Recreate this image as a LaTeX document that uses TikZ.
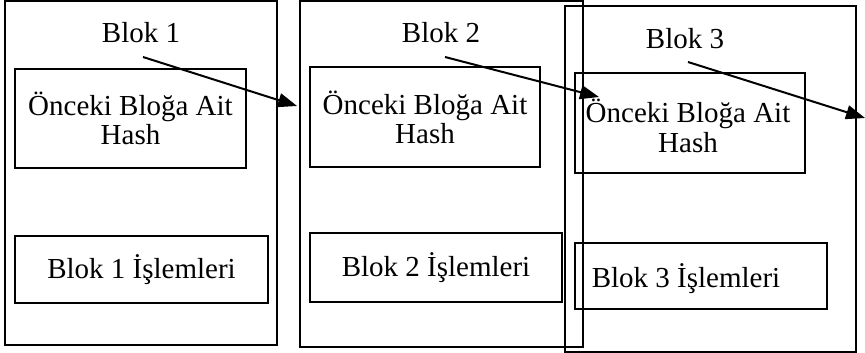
\documentclass[tikz,border=0pt]{standalone}
\usepackage{fontspec}
\setmainfont{Liberation Serif}
\usetikzlibrary{arrows.meta}
\begin{document}
\begin{tikzpicture}[x=1pt,y=-1pt,
  every node/.style={inner sep=0pt, outer sep=0pt},
  outerbox/.style={draw, line width=1.9pt, rectangle},
  innerbox/.style={draw, line width=1.9pt, rectangle, align=center, font=\fontsize{29}{29}\selectfont},
  lbl/.style={font=\fontsize{29}{29}\selectfont, anchor=base},
  link/.style={line width=2pt, -{Triangle[length=19pt,width=14pt]}}]
\useasboundingbox (0,0) rectangle (865,353);
% Block 1
\node[outerbox, minimum width=272pt, minimum height=344pt] (b1) at (141,173) {};
\node[lbl] (l1) at (141,43) {Blok 1};
\node[innerbox, minimum width=231pt, minimum height=99pt] (h1) at (130.5,118.5) {Önceki Bloğa Ait\\Hash};
\node[innerbox, minimum width=253pt, minimum height=67pt] (t1) at (141.5,269.5) {Blok 1 İşlemleri};
% Block 2
\node[outerbox, minimum width=283pt, minimum height=346pt] (b2) at (441.5,174) {};
\node[lbl] (l2) at (441,43) {Blok 2};
\node[innerbox, minimum width=230pt, minimum height=100pt] (h2) at (425,117) {Önceki Bloğa Ait\\Hash};
\node[innerbox, minimum width=252pt, minimum height=69pt] (t2) at (436,267.5) {Blok 2 İşlemleri};
% Block 3
\node[outerbox, minimum width=291pt, minimum height=346pt] (b3) at (710.5,179) {};
\node[lbl] (l3) at (685,49) {Blok 3};
\node[innerbox, minimum width=230pt, minimum height=100pt] (h3) at (690,123) {};
\node[align=center, font=\fontsize{29}{30}\selectfont] (h3t) at (688,126) {Önceki Bloğa Ait\\Hash};
\node[innerbox, minimum width=252pt, minimum height=66pt] (t3) at (701,276) {};
\node[lbl] (t3t) at (686,287) {Blok 3 İşlemleri};
% arrows
\coordinate (s1) at (143,57);
\coordinate (e1) at (297,106);
\coordinate (s2) at (445,57);
\coordinate (e2) at (599,97);
\coordinate (s3) at (688,62);
\coordinate (e3) at (865,118);
\draw[link] (s1) -- (e1);
\draw[link] (s2) -- (e2);
\draw[link] (s3) -- (e3);
\end{tikzpicture}
\end{document}
